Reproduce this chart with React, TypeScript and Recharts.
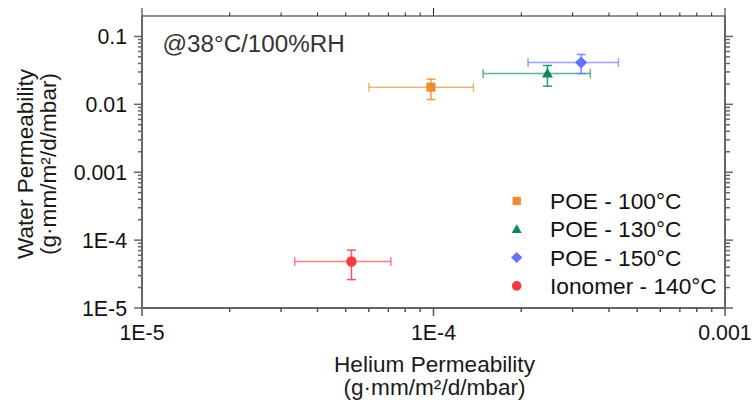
import { ScatterChart, Scatter, XAxis, YAxis, ErrorBar, Legend, Label } from 'recharts';

const seriesNames = ['POE - 100°C', 'POE - 130°C', 'POE - 150°C', 'Ionomer - 140°C'];
const seriesColors = ['#F28A2E', '#0A8A5C', '#6373FF', '#F43C42'];
const seriesShapes = ['square', 'triangle', 'diamond', 'circle'];

// helium permeability, mean and lower/upper bounds
const heliumValues = [9.8e-5, 2.46e-4, 3.21e-4, 5.23e-5];
const heliumLow = [6.0e-5, 1.48e-4, 2.11e-4, 3.34e-5];
const heliumHigh = [1.37e-4, 3.45e-4, 4.31e-4, 7.14e-5];

// water permeability, mean and lower/upper bounds
const waterValues = [0.0179, 0.0284, 0.0413, 4.84e-5];
const waterLow = [0.01175, 0.01854, 0.0284, 2.62e-5];
const waterHigh = [0.0235, 0.0373, 0.0542, 7.11e-5];

const xMajorTicks = [1e-5, 1e-4, 1e-3];
const xTickLabels = ['1E-5', '1E-4', '0.001'];
const yMajorTicks = [1e-5, 1e-4, 1e-3, 1e-2, 1e-1];
const yTickLabels = ['1E-5', '1E-4', '0.001', '0.01', '0.1'];
const minorSteps = [2, 3, 4, 5, 6, 7, 8, 9];

const X_DOMAIN = [1e-5, 1e-3];
const Y_DOMAIN = [1e-5, 0.2];

const withMinor = (majors: number[], max: number) => {
  const out: number[] = [...majors];
  majors.forEach((m) => minorSteps.forEach((s) => { if (m * s < max * 0.999) out.push(m * s); }));
  return out.sort((a, b) => a - b);
};
const xTicks = withMinor(xMajorTicks, X_DOMAIN[1]);
const yTicks = withMinor(yMajorTicks, Y_DOMAIN[1]);

const labelFor = (v: number, majors: number[], labels: string[]) => {
  const i = majors.findIndex((t) => Math.abs(t - v) / t < 1e-6);
  return i >= 0 ? labels[i] : null;
};

const FONT = "'Liberation Sans', Arial, Helvetica, sans-serif";

type Side = 'bottom' | 'top' | 'left' | 'right';

// tick marks drawn by hand so minor ticks can be shorter than the decades
const makeTick = (side: Side, stroke: string, width: number, majorLen: number, minorLen: number) =>
  function TickMark(props: any) {
    const { x, y, payload } = props;
    const v = payload.value;
    const majors = side === 'bottom' || side === 'top' ? xMajorTicks : yMajorTicks;
    const labels = side === 'bottom' || side === 'top' ? xTickLabels : yTickLabels;
    const text = labelFor(v, majors, labels);
    const len = text !== null ? majorLen : minorLen;
    let line;
    if (side === 'bottom') line = <line x1={x} y1={y} x2={x} y2={y + len} />;
    else if (side === 'top') line = <line x1={x} y1={y} x2={x} y2={y - len} />;
    else if (side === 'left') line = <line x1={x} y1={y} x2={x - len} y2={y} />;
    else line = <line x1={x} y1={y} x2={x + len} y2={y} />;
    return (
      <g stroke={stroke} strokeWidth={width}>
        {line}
        {text !== null && side === 'bottom' && (
          <text x={x} y={y + 32} textAnchor="middle" fontSize={21.3} fill="#111" stroke="none">{text}</text>
        )}
        {text !== null && side === 'left' && (
          <text x={x - 15} y={y} dy="0.36em" textAnchor="end" fontSize={21.3} fill="#111" stroke="none">{text}</text>
        )}
      </g>
    );
  };

const BottomTick = makeTick('bottom', '#555', 1.5, 8, 4);
const TopTick = makeTick('top', '#222', 1, 8, 3.5);
const LeftTick = makeTick('left', '#666', 1.5, 8, 4);
const RightTick = makeTick('right', '#666', 1.5, 8, 5);

function Marker({ kind, cx, cy, color, k = 1 }: { kind: string; cx: number; cy: number; color: string; k?: number }) {
  if (kind === 'square') {
    const s = 9 * k;
    return <rect x={cx - s / 2} y={cy - s / 2} width={s} height={s} fill={color} />;
  }
  if (kind === 'triangle') {
    const w = 11 * k;
    return <polygon points={`${cx - w / 2},${cy + 4 * k} ${cx + w / 2},${cy + 4 * k} ${cx},${cy - 5.5 * k}`} fill={color} />;
  }
  if (kind === 'diamond') {
    const w = 6.2 * k;
    const h = 6 * k;
    return <polygon points={`${cx - w},${cy} ${cx},${cy - h} ${cx + w},${cy} ${cx},${cy + h}`} fill={color} />;
  }
  return <circle cx={cx} cy={cy} r={5.2 * k} fill={color} />;
}

const seriesData = seriesNames.map((name, i) => [
  {
    x: heliumValues[i],
    y: waterValues[i],
    ex: [heliumValues[i] - heliumLow[i], heliumHigh[i] - heliumValues[i]],
    ey: [waterValues[i] - waterLow[i], waterHigh[i] - waterValues[i]],
  },
]);

// legend keeps the series order rather than the alphabetical payload order
const renderLegend = () => (
  <svg width={230} height={115} style={{ display: 'block' }}>
    {seriesNames.map((name, i) => {
      const cy = 16 + i * 28.3;
      return (
        <g key={name}>
          <Marker kind={seriesShapes[i]} cx={11.7} cy={cy} color={seriesColors[i]} k={0.92} />
          <text x={45} y={cy + 8} fontSize={22.7} fill="#111">{name}</text>
        </g>
      );
    })}
  </svg>
);

const XTitle = (props: any) => {
  const { x, y, width } = props.viewBox;
  const cx = x + width / 2 + 1;
  return (
    <text textAnchor="middle" fontSize={22.6} fill="#1a1a1a">
      <tspan x={cx} y={y + 64}>Helium Permeability</tspan>
      <tspan x={cx} y={y + 87}>(g·mm/m²/d/mbar)</tspan>
    </text>
  );
};

const YTitle = (props: any) => {
  const { y, height } = props.viewBox;
  const cy = y + height / 2 + 2;
  return (
    <g fontSize={22.6} fill="#1a1a1a">
      <text x={33} y={cy} textAnchor="middle" transform={`rotate(-90, 33, ${cy})`}>Water Permeability</text>
      <text x={56} y={cy} textAnchor="middle" transform={`rotate(-90, 56, ${cy})`}>(g·mm/m²/d/mbar)</text>
    </g>
  );
};

export default function App() {
  return (
    <div style={{ position: 'absolute', left: 0, top: 0, width: 754, height: 404, background: '#fff', fontFamily: FONT }}>
      <ScatterChart width={754} height={404} margin={{ top: 6, right: 19, bottom: 0, left: 0 }}>
        <XAxis
          xAxisId="bottom"
          dataKey="x"
          type="number"
          scale="log"
          domain={X_DOMAIN}
          allowDataOverflow
          ticks={xTicks}
          interval={0}
          height={96}
          tickSize={0}
          tickMargin={0}
          tickLine={false}
          tick={<BottomTick />}
          axisLine={{ stroke: '#666', strokeWidth: 2 }}
        >
          <Label content={<XTitle />} />
        </XAxis>
        <XAxis
          xAxisId="top"
          orientation="top"
          dataKey="x"
          type="number"
          scale="log"
          domain={X_DOMAIN}
          allowDataOverflow
          ticks={xTicks}
          interval={0}
          height={10}
          tickSize={0}
          tickMargin={0}
          tickLine={false}
          tick={<TopTick />}
          axisLine={{ stroke: '#222', strokeWidth: 1 }}
        />
        <YAxis
          yAxisId="left"
          dataKey="y"
          type="number"
          scale="log"
          domain={Y_DOMAIN}
          allowDataOverflow
          ticks={yTicks}
          interval={0}
          width={142}
          tickSize={0}
          tickMargin={0}
          tickLine={false}
          tick={<LeftTick />}
          axisLine={{ stroke: '#666', strokeWidth: 2 }}
        >
          <Label content={<YTitle />} />
        </YAxis>
        <YAxis
          yAxisId="right"
          orientation="right"
          dataKey="y"
          type="number"
          scale="log"
          domain={Y_DOMAIN}
          allowDataOverflow
          ticks={yTicks}
          interval={0}
          width={10}
          tickSize={0}
          tickMargin={0}
          tickLine={false}
          tick={<RightTick />}
          axisLine={{ stroke: '#666', strokeWidth: 2 }}
        />
        {seriesNames.map((name, i) => (
          <Scatter
            key={name}
            name={name}
            data={seriesData[i]}
            xAxisId="bottom"
            yAxisId="left"
            fill={seriesColors[i]}
            isAnimationActive={false}
            shape={(p: any) => <Marker kind={seriesShapes[i]} cx={p.cx} cy={p.cy} color={seriesColors[i]} />}
          >
            <ErrorBar dataKey="ex" direction="x" width={4.5} stroke={seriesColors[i]} strokeWidth={1.5} strokeOpacity={0.65} isAnimationActive={false} />
            <ErrorBar dataKey="ey" direction="y" width={4.5} stroke={seriesColors[i]} strokeWidth={1.5} strokeOpacity={0.85} isAnimationActive={false} />
          </Scatter>
        ))}
        <text x={162.5} y={51.5} fontSize={24.2} fill="#333">@38°C/100%RH</text>
        <Legend
          layout="vertical"
          align="center"
          verticalAlign="middle"
          wrapperStyle={{ left: 505, top: 185, width: 230, height: 115 }}
          content={renderLegend}
        />
      </ScatterChart>
    </div>
  );
}
